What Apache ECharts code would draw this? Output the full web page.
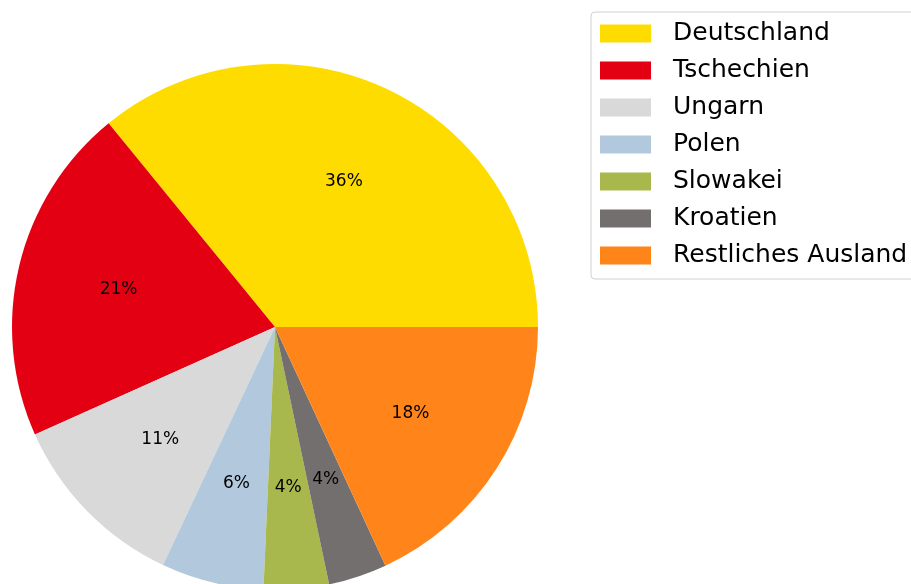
<!DOCTYPE html>
<html lang="de">
<head>
<meta charset="UTF-8">
<title>Pie</title>
<style>
  html, body { margin: 0; padding: 0; background: #fff; }
  #chart { width: 911px; height: 584px; }
</style>
</head>
<body>
<div id="chart"></div>
<script src="https://cdn.jsdelivr.net/npm/echarts@6/dist/echarts.min.js"></script>
<script>
var laender = ['Deutschland', 'Tschechien', 'Ungarn', 'Polen', 'Slowakei', 'Kroatien', 'Restliches Ausland'];
var anteile = [35.9, 20.8, 11.3, 6.3, 4.0, 3.6, 18.1];
var farben = ['#FFDC00', '#E30012', '#D9D9D9', '#B2C8DD', '#A9B84C', '#736F6E', '#FF851B'];

var R = 263;
var data = laender.map(function (n, i) {
    return { name: n, value: anteile[i], itemStyle: { color: farben[i] } };
});
// second, invisible ring only carries the labels at 0.6 r
var labelData = laender.map(function (n, i) {
    return { name: n, value: anteile[i], itemStyle: { color: 'rgba(0,0,0,0)' } };
});

var chart = echarts.init(document.getElementById('chart'));
chart.setOption({
    animation: false,
    legend: {
        data: laender,
        orient: 'vertical',
        left: 591,
        top: 12,
        padding: [9, 10, 11, 9],
        borderColor: '#d0d0d0',
        borderWidth: 1,
        borderRadius: 4,
        itemWidth: 51,
        itemHeight: 18,
        itemGap: 12,
        icon: 'rect',
        selectedMode: false,
        textStyle: {
            fontFamily: 'DejaVu Sans',
            fontSize: 25,
            lineHeight: 25,
            color: '#000',
            padding: [0, 0, 0, 17]
        }
    },
    series: [{
        type: 'pie',
        center: [275, 327],
        radius: [0, R],
        startAngle: 0,
        clockwise: false,
        silent: true,
        label: { show: false },
        labelLine: { show: false },
        emphasis: { disabled: true },
        data: data
    }, {
        type: 'pie',
        center: [275, 327],
        radius: [0, R * 1.2],
        startAngle: 0,
        clockwise: false,
        silent: true,
        legendHoverLink: false,
        emphasis: { disabled: true },
        label: {
            show: true,
            position: 'inside',
            fontFamily: 'DejaVu Sans',
            fontSize: 17,
            color: '#000',
            formatter: function (p) { return Math.round(p.percent) + '%'; }
        },
        labelLine: { show: false },
        data: labelData
    }]
});
</script>
</body>
</html>
